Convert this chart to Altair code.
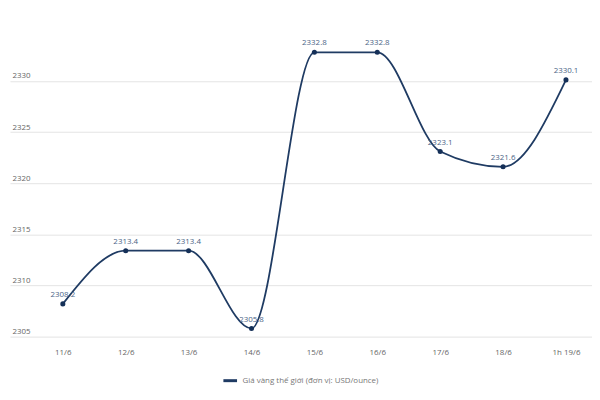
import altair as alt
import pandas as pd

dates = ["11/6", "12/6", "13/6", "14/6", "15/6", "16/6", "17/6", "18/6", "1h 19/6"]
prices = [2308.2, 2313.4, 2313.4, 2305.8, 2332.8, 2332.8, 2323.1, 2321.6, 2330.1]
labels = ["2308.2", "2313.4", "2313.4", "2305.8", "2332.8", "2332.8", "2323.1", "2321.6", "2330.1"]
series_name = "Giá vàng thế giới (đơn vị: USD/ounce)"
y_ticks = [2305, 2310, 2315, 2320, 2325, 2330]

df = pd.DataFrame({"date": dates, "price": prices, "label": labels, "series": series_name})

FONT = "Open Sans"
LINE = "#1f3b63"

x = alt.X("date:N", sort=dates, scale=alt.Scale(type="point", padding=0.627, align=0.67),
          axis=alt.Axis(title=None, grid=False, domain=False, ticks=False, labelAngle=0,
                        labelPadding=12, labelFontSize=8, labelColor="#666666", labelFont=FONT))
y = alt.Y("price:Q", scale=alt.Scale(domain=[2305, 2335], nice=False, zero=False),
          axis=alt.Axis(title=None, values=y_ticks, format="d", domain=False, ticks=False, tickSize=0,
                        labelAlign="left", labelBaseline="bottom", labelPadding=-2, labelOffset=-1,
                        labelFontSize=8, labelColor="#666666", labelFont=FONT,
                        gridColor="#e4e4e4", gridWidth=1))

color = alt.Color("series:N", scale=alt.Scale(range=[LINE]),
                  legend=alt.Legend(title=None, orient="none", legendX=214, legendY=346,
                                    symbolType="stroke", symbolStrokeWidth=3, symbolSize=190,
                                    labelFontSize=8, labelColor="#777777", labelFont=FONT,
                                    symbolStrokeColor=LINE))

line = alt.Chart(df).mark_line(interpolate="monotone", strokeWidth=1.8).encode(x=x, y=y, color=color)
pts = alt.Chart(df).mark_circle(size=26, opacity=1, color="#153058").encode(x=x, y=y)
txt = alt.Chart(df).mark_text(dy=-9, fontSize=8, color="#4a6486", font=FONT).encode(x=x, y=y, text="label:N")

chart = (line + pts + txt).properties(
    width=588, height=310,
    autosize=alt.AutoSizeParams(type="none"),
    padding={"left": 2, "top": 20, "right": 0, "bottom": 60},
).configure_view(stroke=None)

chart.save("out.html", embed_options={"renderer": "svg", "actions": False})
